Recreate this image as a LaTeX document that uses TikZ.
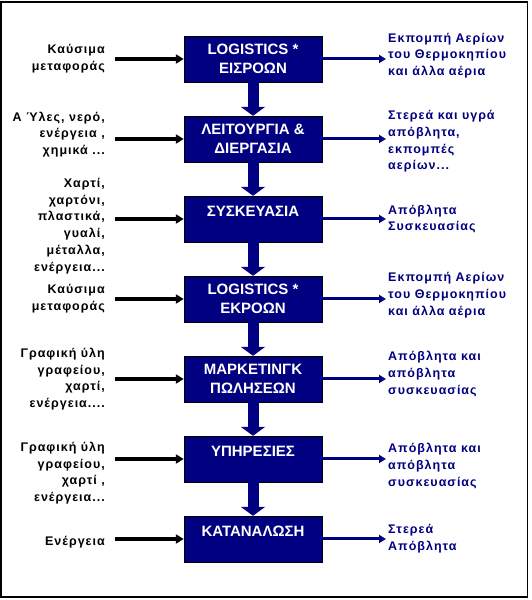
\documentclass[tikz,border=0pt]{standalone}
\usepackage{fontspec}
\setmainfont{Liberation Sans}
\newfontfamily\sidefont{Liberation Sans}[LetterSpace=8]
\usetikzlibrary{arrows.meta, positioning}
\definecolor{navy}{RGB}{0,0,128}

\begin{document}
\begin{tikzpicture}[x=1pt,y=1pt,node distance=80pt,on grid,
    stage/.style={draw=black,fill=navy,text=white,minimum width=138pt,minimum height=46pt,
      inner sep=0pt,align=center,font=\bfseries\fontsize{15}{19}\selectfont},
    onerow/.style={text height=11pt,text depth=16pt},
    intext/.style={align=right,inner sep=0pt,font=\sidefont\bfseries\fontsize{12.5}{16.7}\selectfont},
    outtext/.style={align=left,inner sep=0pt,text=navy,font=\sidefont\bfseries\fontsize{12.5}{16.7}\selectfont},
    flow/.style={-{Triangle[length=9pt,width=24pt]},line width=11pt,navy},
    inarrow/.style={-{Triangle[length=8pt,width=9pt]},line width=4pt,shorten <=10pt},
    outarrow/.style={-{Triangle[length=7pt,width=8pt]},line width=3pt,navy,shorten >=2pt}]
   \useasboundingbox (0,0) rectangle (531,600);
   \draw[line width=1.2pt] (1,3) rectangle (527.5,598);
   % stages
   \node[stage] (b1) at (253,541) {LOGISTICS *\\ΕΙΣΡΟΩΝ};
   \node[stage] (b2) [below=of b1] {ΛΕΙΤΟΥΡΓΙΑ \&\\ΔΙΕΡΓΑΣΙΑ};
   \node[stage,onerow] (b3) [below=of b2] {ΣΥΣΚΕΥΑΣΙΑ};
   \node[stage] (b4) [below=of b3] {LOGISTICS *\\ΕΚΡΟΩΝ};
   \node[stage] (b5) [below=of b4] {ΜΑΡΚΕΤΙΝΓΚ\\ΠΩΛΗΣΕΩΝ};
   \node[stage,onerow] (b6) [below=of b5] {ΥΠΗΡΕΣΙΕΣ};
   \node[stage,onerow] (b7) [below=of b6] {ΚΑΤΑΝΑΛΩΣΗ};
   % inputs
   \node[intext,left=148pt of b1,anchor=east] (in1) {Καύσιμα\\μεταφοράς};
   \node[intext,left=148pt of b2,anchor=east,yshift=4.5pt] (in2) {Α Ύλες, νερό,\\ενέργεια ,\\χημικά ...};
   \node[intext,left=148pt of b3,anchor=east,yshift=-7pt] (in3) {Χαρτί,\\χαρτόνι,\\πλαστικά,\\γυαλί,\\μέταλλα,\\ενέργεια...};
   \node[intext,left=148pt of b4,anchor=east] (in4) {Καύσιμα\\μεταφοράς};
   \node[intext,left=148pt of b5,anchor=east] (in5) {Γραφική ύλη\\γραφείου,\\χαρτί,\\ενέργεια....};
   \node[intext,left=148pt of b6,anchor=east,yshift=-14pt] (in6) {Γραφική ύλη\\γραφείου,\\χαρτί ,\\ενέργεια...};
   \node[intext,left=148pt of b7,anchor=east,yshift=-3pt] (in7) {Ενέργεια};
   % outputs
   \node[outtext,right=135pt of b1,anchor=west,yshift=3.5pt] (out1) {Εκπομπή Αερίων\\του Θερμοκηπίου\\και άλλα αέρια};
   \node[outtext,right=135pt of b2,anchor=west,yshift=-2.5pt] (out2) {Στερεά και υγρά\\απόβλητα,\\εκπομπές\\αερίων...};
   \node[outtext,right=135pt of b3,anchor=west] (out3) {Απόβλητα\\Συσκευασίας};
   \node[outtext,right=135pt of b4,anchor=west,yshift=4pt] (out4) {Εκπομπή Αερίων\\του Θερμοκηπίου\\και άλλα αέρια};
   \node[outtext,right=135pt of b5,anchor=west,yshift=5pt] (out5) {Απόβλητα και\\απόβλητα\\συσκευασίας};
   \node[outtext,right=135pt of b6,anchor=west,yshift=-7pt] (out6) {Απόβλητα και\\απόβλητα\\συσκευασίας};
   \node[outtext,right=135pt of b7,anchor=west] (out7) {Στερεά\\Απόβλητα};
   % connectors
   \foreach \i [count=\j from 2] in {1,...,6}
     \draw[flow] (b\i.south) -- (b\j.north);
   \foreach \i in {1,...,7} {
     \draw[inarrow] (in\i.east |- b\i.west) -- (b\i.west);
     \draw[outarrow] (b\i.east) -- (out\i.west |- b\i.east);
   }
\end{tikzpicture}
\end{document}
